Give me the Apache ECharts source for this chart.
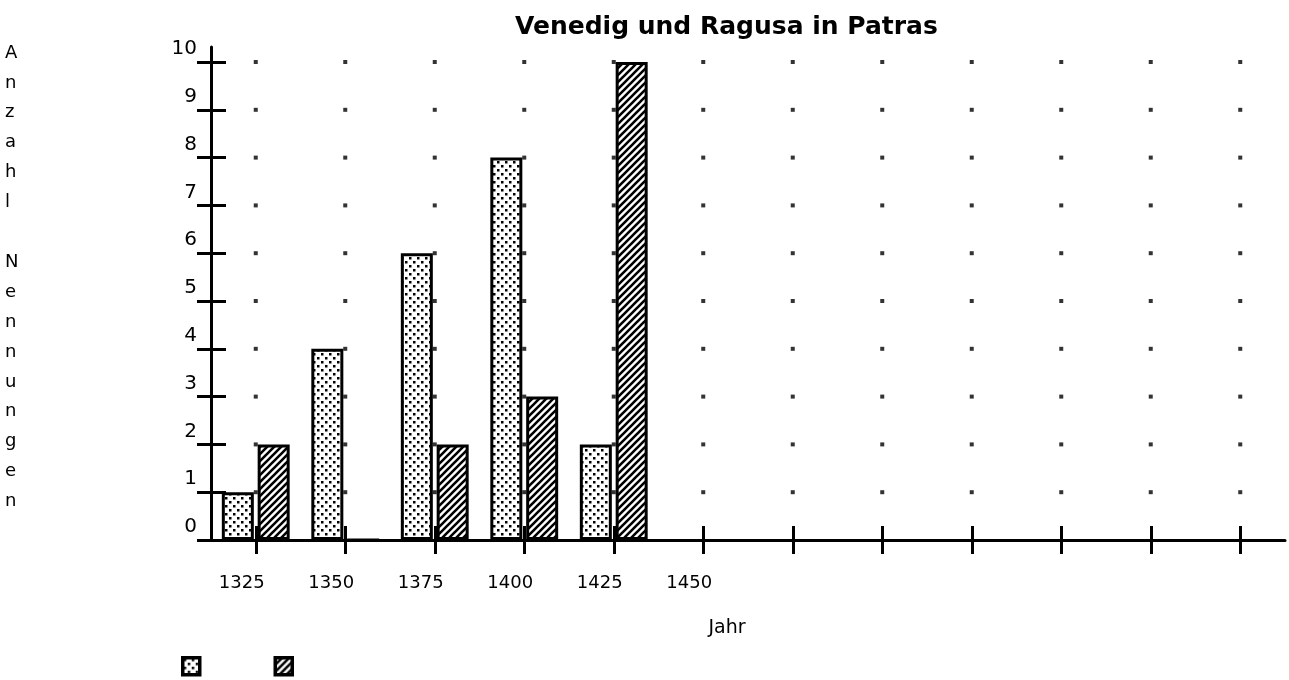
<!DOCTYPE html>
<html>
<head>
<meta charset="utf-8">
<script src="https://cdn.jsdelivr.net/npm/echarts@6/dist/echarts.min.js"></script>
<style>html,body{margin:0;padding:0;background:#fff;}#c{width:1289px;height:680px;}</style>
</head>
<body>
<div id="c"></div>
<script>
// ---- data ----
const categories = ['1325','1350','1375','1400','1425','1450','a7','a8','a9','a10','a11','a12'];
const categoryLabels = ['1325','1350','1375','1400','1425','1450','','','','','',''];
const venedig = [1, 4, 6, 8, 2];
const ragusa  = [2, 0, 2, 3, 10];
const yTicks = [0,1,2,3,4,5,6,7,8,9,10];
const titleText = 'Venedig und Ragusa in Patras';
const yName = 'Anzahl Nennungen';
const xName = 'Jahr';

// ---- patterns ----
function dotPattern() {
  const c = document.createElement('canvas');
  c.width = 8; c.height = 8;
  const g = c.getContext('2d');
  g.fillStyle = '#fff'; g.fillRect(0,0,8,8);
  g.fillStyle = '#000';
  g.fillRect(1,1,2.5,2.5);
  g.fillRect(5,5,2.5,2.5);
  return c;
}
function hatchPattern() {
  const s = 7;
  const c = document.createElement('canvas');
  c.width = s; c.height = s;
  const g = c.getContext('2d');
  g.fillStyle = '#fff'; g.fillRect(0,0,s,s);
  g.strokeStyle = '#000'; g.lineWidth = 2.6;
  g.beginPath();
  g.moveTo(-s, s*2); g.lineTo(s*2, -s);
  g.moveTo(-s, s); g.lineTo(s, -s);
  g.moveTo(0, s*2); g.lineTo(s*2, 0);
  g.stroke();
  return c;
}

// dot grid at each category / integer value
const gridDots = [];
categories.forEach(c => yTicks.forEach(v => { if (v > 0) gridDots.push([c, v]); }));

const chart = echarts.init(document.getElementById('c'));
const font = 'DejaVu Sans';
const axisCommon = {
  type: 'category', data: categories, boundaryGap: true, gridIndex: 0, position: 'bottom'
};
chart.setOption({
  backgroundColor: '#fff',
  animation: false,
  title: {
    text: titleText, left: 510, top: 10,
    textStyle: { fontFamily: font, fontWeight: 'bold', fontSize: 25, color: '#000' }
  },
  grid: { left: 211, right: 4, top: 47, bottom: 140 },
  legend: {
    left: 176, top: 651, itemWidth: 17, itemHeight: 17, itemGap: 72,
    icon: 'rect', formatter: () => '',
    data: [
      { name: 'Venedig', itemStyle: { borderWidth: 3.5 } },
      { name: 'Ragusa', itemStyle: { borderWidth: 3.5 } }
    ]
  },
  graphic: [{
    type: 'text', left: 5, top: 38,
    style: { text: yName.split('').join('\n'), fontFamily: font, fontSize: 18, lineHeight: 29.9, fill: '#000', align: 'center' }
  }],
  xAxis: [
    Object.assign({}, axisCommon, {
      axisLine: { lineStyle: { color: '#000', width: 3 } },
      axisTick: { show: true, alignWithLabel: true, interval: 0, length: 14, lineStyle: { color: '#000', width: 3 } },
      axisLabel: { formatter: (v, i) => categoryLabels[i], interval: 0, margin: 34, fontFamily: font, fontSize: 18, color: '#000', padding: [0, 28, 0, 0] },
      name: xName, nameLocation: 'middle', nameGap: 79,
      nameTextStyle: { fontFamily: font, fontSize: 19, color: '#000', padding: [0, 42, 0, 0] },
      splitLine: { show: false }
    }),
    Object.assign({}, axisCommon, {
      axisLine: { show: false },
      axisTick: { show: true, alignWithLabel: true, interval: 0, inside: true, length: 14, lineStyle: { color: '#000', width: 3 } },
      axisLabel: { show: false },
      splitLine: { show: false }
    })
  ],
  yAxis: [
    {
      type: 'value', min: 0, max: 10.314, position: 'left',
      axisLine: { show: true, lineStyle: { color: '#000', width: 3 } },
      axisTick: { show: true, length: 14, customValues: yTicks, lineStyle: { color: '#000', width: 3 } },
      axisLabel: { customValues: yTicks, margin: 14, verticalAlign: 'bottom', padding: [0, 0, 3, 0], fontFamily: font, fontSize: 20, color: '#000' },
      splitLine: { show: false }
    },
    {
      type: 'value', min: 0, max: 10.314, position: 'left', offset: 0,
      axisLine: { show: false },
      axisTick: { show: true, inside: true, length: 15, customValues: yTicks, lineStyle: { color: '#000', width: 3 } },
      axisLabel: { show: false },
      splitLine: { show: false }
    }
  ],
  series: [
    {
      type: 'scatter', data: gridDots, symbol: 'rect', symbolSize: 4,
      itemStyle: { color: '#000' }, z: 1, silent: true
    },
    {
      name: 'Venedig', type: 'bar', data: venedig, barWidth: 32, barGap: '12%',
      itemStyle: { color: { image: dotPattern(), repeat: 'repeat' }, borderColor: '#000', borderWidth: 3 }, z: 3
    },
    {
      name: 'Ragusa', type: 'bar', data: ragusa, barWidth: 32, barGap: '12%',
      itemStyle: { color: { image: hatchPattern(), repeat: 'repeat' }, borderColor: '#000', borderWidth: 3 }, z: 3
    }
  ]
});
</script>
</body>
</html>
